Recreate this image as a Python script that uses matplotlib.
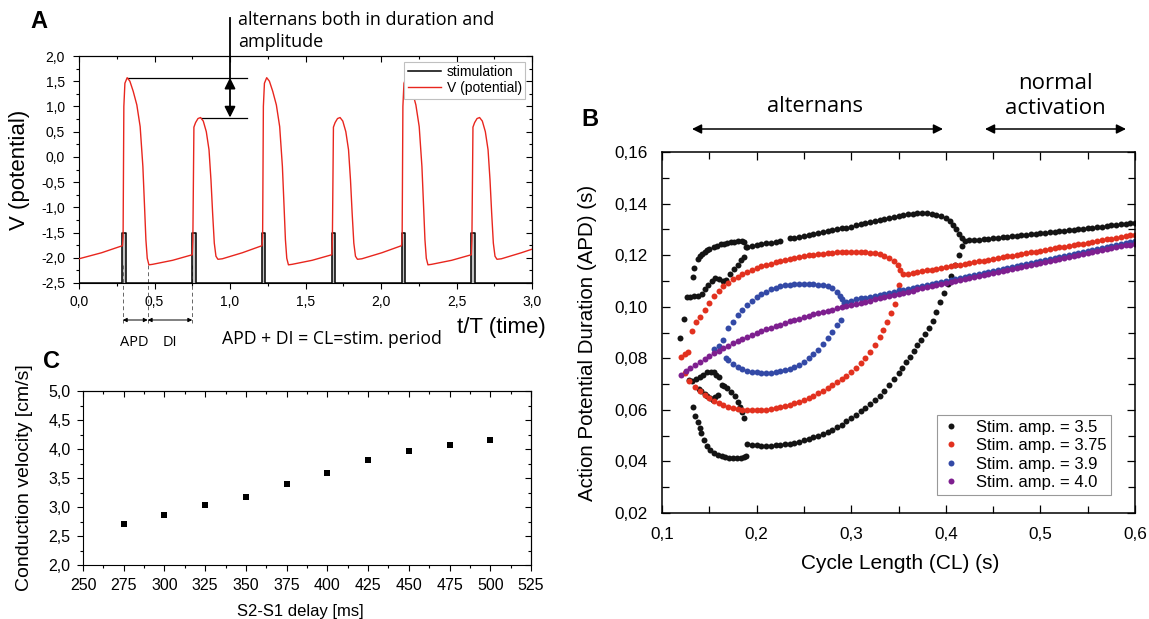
import matplotlib.pyplot as plt
from matplotlib.ticker import MultipleLocator, FuncFormatter

plt.rcParams['font.family'] = ['Liberation Sans', 'DejaVu Sans']
ANNOT_FONT = ['Open Sans', 'DejaVu Sans']

# ---------------- panel A: potential trace and stimulus train ----------------
t_trace = [0.000, 0.150,
           0.288, 0.292, 0.297, 0.304, 0.319, 0.337, 0.359, 0.383, 0.405, 0.423, 0.434, 0.443, 0.452, 0.463, 0.487, 0.620,
           0.750, 0.754, 0.761, 0.772, 0.788, 0.805, 0.823, 0.843, 0.861, 0.874, 0.885, 0.896, 0.907, 0.920, 0.949, 1.082,
           1.212, 1.216, 1.221, 1.228, 1.243, 1.261, 1.283, 1.307, 1.329, 1.347, 1.358, 1.367, 1.376, 1.387, 1.411, 1.544,
           1.674, 1.678, 1.685, 1.696, 1.712, 1.729, 1.747, 1.767, 1.785, 1.798, 1.809, 1.820, 1.831, 1.844, 1.873, 2.006,
           2.136, 2.140, 2.145, 2.152, 2.167, 2.185, 2.207, 2.231, 2.253, 2.271, 2.282, 2.291, 2.300, 2.311, 2.335, 2.468,
           2.598, 2.602, 2.609, 2.620, 2.636, 2.653, 2.671, 2.691, 2.709, 2.722, 2.733, 2.744, 2.755, 2.768, 2.797, 2.930,
           3.000]
v_trace = [-2.02, -1.90,
           -1.76, -1.58, 1.00, 1.46, 1.57, 1.50, 1.30, 1.03, 0.60, -0.19, -0.98, -1.64, -2.01, -2.14, -2.13, -2.05,
           -1.94, -1.64, 0.59, 0.68, 0.76, 0.78, 0.71, 0.50, 0.14, -0.46, -1.12, -1.71, -1.97, -2.03, -2.02, -1.90,
           -1.76, -1.58, 1.00, 1.46, 1.57, 1.50, 1.30, 1.03, 0.60, -0.19, -0.98, -1.64, -2.01, -2.14, -2.13, -2.05,
           -1.94, -1.64, 0.59, 0.68, 0.76, 0.78, 0.71, 0.50, 0.14, -0.46, -1.12, -1.71, -1.97, -2.03, -2.02, -1.90,
           -1.76, -1.58, 1.00, 1.46, 1.57, 1.50, 1.30, 1.03, 0.60, -0.19, -0.98, -1.64, -2.01, -2.14, -2.13, -2.05,
           -1.94, -1.64, 0.59, 0.68, 0.76, 0.78, 0.71, 0.50, 0.14, -0.46, -1.12, -1.71, -1.97, -2.03, -2.02, -1.90,
           -1.83]
stim_start = [0.288, 0.750, 1.212, 1.674, 2.136, 2.598]
stim_width = 0.022
stim_base, stim_top = -2.5, -1.5
apd_marks = [0.29, 0.455, 0.75]          # stim onset, repolarisation, next stim
peak_big, peak_small = 1.57, 0.78

# ---------------- panel B: APD restitution (bifurcation) ----------------
black_left_cl = [0.1190, 0.1236, 0.1324,
                 0.1335, 0.1377, 0.1405, 0.1423, 0.1450, 0.1476, 0.1500, 0.1546, 0.1580, 0.1620, 0.1652, 0.1690,
                 0.1730, 0.1758, 0.1800, 0.1846, 0.1870, 0.1892,
                 0.1264, 0.1300, 0.1340, 0.1380, 0.1420, 0.1455, 0.1490, 0.1530, 0.1565, 0.1600, 0.1640, 0.1680,
                 0.1720, 0.1760, 0.1800, 0.1840, 0.1870,
                 0.1282, 0.1320, 0.1360, 0.1400, 0.1437, 0.1476, 0.1515, 0.1545, 0.1573, 0.1600,
                 0.1390, 0.1417, 0.1450, 0.1476, 0.1505, 0.1534, 0.1560, 0.1590, 0.1632, 0.1660, 0.1690, 0.1730,
                 0.1768, 0.1800, 0.1827, 0.1847, 0.1866,
                 0.1330, 0.1350, 0.1378, 0.1400, 0.1417, 0.1445, 0.1476, 0.1510, 0.1550, 0.1590, 0.1630, 0.1670,
                 0.1710, 0.1750, 0.1790, 0.1830, 0.1866, 0.1890]
black_left_apd = [0.0880, 0.0953, 0.1115,
                  0.1151, 0.1186, 0.1198, 0.1206, 0.1213, 0.1219, 0.1224, 0.1232, 0.1237, 0.1242, 0.1245, 0.1248,
                  0.1250, 0.1251, 0.1253, 0.1255, 0.1250, 0.1230,
                  0.1038, 0.1039, 0.1040, 0.1042, 0.1050, 0.1068, 0.1085, 0.1100, 0.1110, 0.1108, 0.1098, 0.1105,
                  0.1125, 0.1145, 0.1163, 0.1180, 0.1192,
                  0.0714, 0.0712, 0.0718, 0.0728, 0.0737, 0.0745, 0.0748, 0.0745, 0.0737, 0.0728,
                  0.0682, 0.0672, 0.0660, 0.0652, 0.0645, 0.0640, 0.0648, 0.0658, 0.0697, 0.0692, 0.0684, 0.0670,
                  0.0652, 0.0632, 0.0613, 0.0590, 0.0568,
                  0.0611, 0.0575, 0.0551, 0.0530, 0.0510, 0.0485, 0.0460, 0.0445, 0.0432, 0.0426, 0.0421, 0.0417,
                  0.0414, 0.0413, 0.0412, 0.0414, 0.0418, 0.0421]
black_hi_cl = [0.190, 0.195, 0.200, 0.205, 0.210, 0.215, 0.220, 0.225,
               0.235, 0.240, 0.245, 0.250, 0.255, 0.260, 0.265, 0.270, 0.275, 0.280, 0.285, 0.290, 0.295, 0.300,
               0.305, 0.310, 0.315, 0.320, 0.325, 0.330, 0.335, 0.340, 0.345, 0.350, 0.355, 0.360, 0.365, 0.370,
               0.375, 0.380, 0.385, 0.390, 0.395, 0.400, 0.404, 0.408, 0.411, 0.414, 0.417]
black_hi_apd = [0.1232, 0.1237, 0.1240, 0.1243, 0.1246, 0.1249, 0.1252, 0.1255,
                0.1265, 0.1268, 0.1271, 0.1275, 0.1278, 0.1282, 0.1285, 0.1289, 0.1292, 0.1296, 0.1300, 0.1304,
                0.1307, 0.1311, 0.1315, 0.1319, 0.1323, 0.1327, 0.1331, 0.1336, 0.1340, 0.1344, 0.1348, 0.1352,
                0.1355, 0.1358, 0.1360, 0.1362, 0.1363, 0.1362, 0.1360, 0.1357, 0.1352, 0.1344, 0.1333, 0.1318,
                0.1300, 0.1282, 0.1265]
black_lo_cl = [0.190, 0.195, 0.200, 0.205, 0.210, 0.215, 0.220, 0.225, 0.230, 0.235, 0.240, 0.245, 0.250,
               0.255, 0.260, 0.265, 0.270, 0.275, 0.280, 0.285, 0.290, 0.295, 0.300, 0.305, 0.310, 0.315, 0.320,
               0.325, 0.330, 0.335, 0.340, 0.345, 0.350, 0.354, 0.358, 0.362, 0.366, 0.370, 0.374, 0.378, 0.382,
               0.386, 0.390, 0.394, 0.398, 0.402, 0.406, 0.410, 0.414, 0.417]
black_lo_apd = [0.0468, 0.0464, 0.0462, 0.0461, 0.0461, 0.0461, 0.0462, 0.0464, 0.0466, 0.0469, 0.0473,
                0.0477, 0.0482, 0.0488, 0.0494, 0.0500, 0.0507, 0.0515, 0.0523, 0.0533, 0.0543, 0.0555, 0.0567,
                0.0580, 0.0594, 0.0608, 0.0622, 0.0637, 0.0655, 0.0675, 0.0697, 0.0720, 0.0744, 0.0764, 0.0785,
                0.0806, 0.0828, 0.0850, 0.0872, 0.0895, 0.0918, 0.0946, 0.0980, 0.1020, 0.1055, 0.1090, 0.1120,
                0.1160, 0.1200, 0.1235]
black_norm_cl = [0.420, 0.425, 0.430, 0.435, 0.440, 0.445, 0.450, 0.455, 0.460, 0.465, 0.470, 0.475, 0.480,
                 0.485, 0.490, 0.495, 0.500, 0.505, 0.510, 0.515, 0.520, 0.525, 0.530, 0.535, 0.540, 0.545, 0.550,
                 0.555, 0.560, 0.565, 0.570, 0.575, 0.580, 0.585, 0.590, 0.595, 0.600]
black_norm_apd = [0.1256, 0.1257, 0.1258, 0.1260, 0.1262, 0.1263, 0.1265, 0.1267, 0.1269, 0.1271, 0.1273,
                  0.1275, 0.1277, 0.1279, 0.1281, 0.1283, 0.1285, 0.1287, 0.1289, 0.1291, 0.1293, 0.1295, 0.1297,
                  0.1299, 0.1301, 0.1303, 0.1305, 0.1307, 0.1309, 0.1311, 0.1313, 0.1315, 0.1317, 0.1319, 0.1321,
                  0.1323, 0.1325]

red_hi_cl = [0.120, 0.124, 0.128, 0.132, 0.136, 0.140,
             0.145, 0.150, 0.155, 0.160, 0.165, 0.170, 0.175, 0.180, 0.185, 0.190, 0.195, 0.200, 0.205, 0.210,
             0.215, 0.220, 0.225, 0.230, 0.235, 0.240, 0.245, 0.250, 0.255, 0.260, 0.265, 0.270, 0.275, 0.280,
             0.285, 0.290, 0.295, 0.300, 0.305, 0.310, 0.315, 0.320, 0.325, 0.330, 0.335, 0.340, 0.345,
             0.349, 0.352]
red_hi_apd = [0.0805, 0.0818, 0.0826, 0.0905, 0.0940, 0.0962,
              0.0988, 0.1016, 0.1040, 0.1062, 0.1079, 0.1093, 0.1106, 0.1117, 0.1127, 0.1136, 0.1144, 0.1150,
              0.1156, 0.1162, 0.1167, 0.1172, 0.1177, 0.1181, 0.1185, 0.1189, 0.1193, 0.1196, 0.1199, 0.1202,
              0.1204, 0.1206, 0.1208, 0.1210, 0.1211, 0.1212, 0.1213, 0.1213, 0.1213, 0.1213, 0.1212, 0.1210,
              0.1207, 0.1203, 0.1197, 0.1189, 0.1177,
              0.1162, 0.1143]
red_lo_cl = [0.124, 0.129,
             0.135, 0.140, 0.145, 0.150, 0.155, 0.160, 0.165, 0.170, 0.175, 0.180, 0.185, 0.190, 0.195, 0.200,
             0.205, 0.210, 0.215, 0.220, 0.225, 0.230, 0.235, 0.240, 0.245, 0.250, 0.255, 0.260, 0.265, 0.270,
             0.275, 0.280, 0.285, 0.290, 0.295, 0.300, 0.305, 0.310, 0.315, 0.320, 0.325, 0.330,
             0.334, 0.338, 0.342, 0.346, 0.350]
red_lo_apd = [0.0743, 0.0712,
              0.0688, 0.0672, 0.0658, 0.0647, 0.0636, 0.0626, 0.0618, 0.0612, 0.0607, 0.0603, 0.0600, 0.0599,
              0.0598, 0.0598, 0.0599, 0.0601, 0.0603, 0.0606, 0.0610, 0.0615, 0.0620, 0.0626, 0.0632, 0.0639,
              0.0647, 0.0655, 0.0664, 0.0674, 0.0685, 0.0696, 0.0708, 0.0720, 0.0733, 0.0747, 0.0764, 0.0781,
              0.0801, 0.0826, 0.0853, 0.0883,
              0.0910, 0.0940, 0.0975, 0.1010, 0.1085]
red_norm_cl = [0.355, 0.360, 0.365, 0.370, 0.375, 0.380, 0.385, 0.390, 0.395, 0.400, 0.405, 0.410, 0.415,
               0.420, 0.425, 0.430, 0.435, 0.440, 0.445, 0.450, 0.455, 0.460, 0.465, 0.470, 0.475, 0.480, 0.485,
               0.490, 0.495, 0.500, 0.505, 0.510, 0.515, 0.520, 0.525, 0.530, 0.535, 0.540, 0.545, 0.550, 0.555,
               0.560, 0.565, 0.570, 0.575, 0.580, 0.585, 0.590, 0.595, 0.600]
red_norm_apd = [0.1125, 0.1128, 0.1131, 0.1135, 0.1138, 0.1141, 0.1144, 0.1147, 0.1150, 0.1154, 0.1157,
                0.1160, 0.1163, 0.1166, 0.1169, 0.1173, 0.1176, 0.1179, 0.1182, 0.1185, 0.1188, 0.1192, 0.1195,
                0.1198, 0.1201, 0.1204, 0.1207, 0.1211, 0.1214, 0.1217, 0.1220, 0.1223, 0.1226, 0.1230, 0.1233,
                0.1236, 0.1239, 0.1242, 0.1245, 0.1249, 0.1252, 0.1255, 0.1258, 0.1261, 0.1264, 0.1268, 0.1271,
                0.1274, 0.1277, 0.1280]

blue_hi_cl = [0.155, 0.160, 0.165, 0.170, 0.175, 0.180, 0.185, 0.190, 0.195, 0.200, 0.205, 0.210, 0.215,
              0.220, 0.225, 0.230, 0.235, 0.240, 0.245, 0.250, 0.255, 0.260, 0.265, 0.270, 0.275, 0.280, 0.285,
              0.288, 0.290, 0.292]
blue_hi_apd = [0.0835, 0.0846, 0.0870, 0.0916, 0.0940, 0.0968, 0.0988, 0.1005, 0.1021, 0.1037, 0.1048,
               0.1059, 0.1067, 0.1074, 0.1080, 0.1083, 0.1086, 0.1087, 0.1088, 0.1088, 0.1087, 0.1087, 0.1086,
               0.1083, 0.1079, 0.1071, 0.1057, 0.1042, 0.1030, 0.1015]
blue_lo_cl = [0.168, 0.170, 0.175, 0.180, 0.185, 0.190, 0.195, 0.200, 0.205, 0.210, 0.215, 0.220, 0.225,
              0.230, 0.235, 0.240, 0.245, 0.250, 0.255, 0.260, 0.265, 0.270, 0.275, 0.280, 0.285, 0.289]
blue_lo_apd = [0.0800, 0.0793, 0.0779, 0.0767, 0.0758, 0.0751, 0.0747, 0.0745, 0.0743, 0.0743, 0.0744,
               0.0746, 0.0749, 0.0753, 0.0759, 0.0766, 0.0775, 0.0786, 0.0800, 0.0816, 0.0834, 0.0854, 0.0877,
               0.0903, 0.0930, 0.0950]
blue_norm_cl = [0.295, 0.300, 0.305, 0.310, 0.315, 0.320, 0.325, 0.330, 0.335, 0.340, 0.345, 0.350, 0.355,
                0.360, 0.365, 0.370, 0.375, 0.380, 0.385, 0.390, 0.395, 0.400, 0.405, 0.410, 0.415, 0.420, 0.425,
                0.430, 0.435, 0.440, 0.445, 0.450, 0.455, 0.460, 0.465, 0.470, 0.475, 0.480, 0.485, 0.490, 0.495,
                0.500, 0.505, 0.510, 0.515, 0.520, 0.525, 0.530, 0.535, 0.540, 0.545, 0.550, 0.555, 0.560, 0.565,
                0.570, 0.575, 0.580, 0.585, 0.590, 0.595, 0.600]
blue_norm_apd = [0.1020, 0.1024, 0.1028, 0.1032, 0.1035, 0.1039, 0.1043, 0.1047, 0.1051, 0.1055, 0.1059,
                 0.1063, 0.1066, 0.1070, 0.1074, 0.1078, 0.1082, 0.1086, 0.1090, 0.1093, 0.1097, 0.1101, 0.1105,
                 0.1109, 0.1113, 0.1117, 0.1120, 0.1124, 0.1128, 0.1132, 0.1136, 0.1140, 0.1144, 0.1147, 0.1151,
                 0.1155, 0.1159, 0.1163, 0.1167, 0.1170, 0.1174, 0.1178, 0.1182, 0.1186, 0.1190, 0.1194, 0.1197,
                 0.1201, 0.1205, 0.1209, 0.1213, 0.1217, 0.1220, 0.1224, 0.1228, 0.1232, 0.1236, 0.1240, 0.1243,
                 0.1247, 0.1251, 0.1255]

purple_cl = [0.120, 0.125, 0.130, 0.135, 0.140, 0.145, 0.150, 0.155, 0.160, 0.165, 0.170, 0.175, 0.180,
             0.185, 0.190, 0.195, 0.200, 0.205, 0.210, 0.215, 0.220, 0.225, 0.230, 0.235, 0.240, 0.245, 0.250,
             0.255, 0.260, 0.265, 0.270, 0.275, 0.280, 0.285, 0.290, 0.295, 0.300, 0.305, 0.310, 0.315, 0.320,
             0.325, 0.330, 0.335, 0.340, 0.345, 0.350, 0.355, 0.360, 0.365, 0.370, 0.375, 0.380, 0.385, 0.390,
             0.395, 0.400, 0.405, 0.410, 0.415, 0.420, 0.425, 0.430, 0.435, 0.440, 0.445, 0.450, 0.455, 0.460,
             0.465, 0.470, 0.475, 0.480, 0.485, 0.490, 0.495, 0.500, 0.505, 0.510, 0.515, 0.520, 0.525, 0.530,
             0.535, 0.540, 0.545, 0.550, 0.555, 0.560, 0.565, 0.570, 0.575, 0.580, 0.585, 0.590, 0.595, 0.600]
purple_apd = [0.0737, 0.0750, 0.0762, 0.0775, 0.0787, 0.0798, 0.0809, 0.0820, 0.0830, 0.0840, 0.0849,
              0.0858, 0.0867, 0.0875, 0.0883, 0.0891, 0.0898, 0.0905, 0.0912, 0.0919, 0.0925, 0.0931, 0.0937,
              0.0943, 0.0949, 0.0954, 0.0960, 0.0965, 0.0970, 0.0975, 0.0980, 0.0985, 0.0989, 0.0994, 0.0998,
              0.1003, 0.1007, 0.1011, 0.1016, 0.1020, 0.1024, 0.1028, 0.1033, 0.1037, 0.1041, 0.1045, 0.1050,
              0.1054, 0.1058, 0.1062, 0.1067, 0.1071, 0.1075, 0.1079, 0.1084, 0.1088, 0.1092, 0.1096, 0.1101,
              0.1105, 0.1109, 0.1112, 0.1116, 0.1120, 0.1124, 0.1128, 0.1132, 0.1135, 0.1139, 0.1143, 0.1147,
              0.1151, 0.1154, 0.1158, 0.1162, 0.1166, 0.1170, 0.1174, 0.1177, 0.1181, 0.1185, 0.1189, 0.1193,
              0.1196, 0.1200, 0.1204, 0.1208, 0.1211, 0.1215, 0.1219, 0.1223, 0.1226, 0.1230, 0.1234, 0.1238,
              0.1241, 0.1245]

series_labels = ['Stim. amp. = 3.5', 'Stim. amp. = 3.75', 'Stim. amp. = 3.9', 'Stim. amp. = 4.0']
series_colors = ['#141414', '#e2311f', '#3349a6', '#7e1f8f']

# ---------------- panel C: conduction velocity ----------------
s2s1_delay = [275, 300, 325, 350, 375, 400, 425, 450, 475, 500]
cond_velocity = [2.70, 2.86, 3.03, 3.18, 3.39, 3.58, 3.81, 3.96, 4.07, 4.16]

# ---------------------------------------------------------------------------
W, H = 1149, 619


def fx(x):
    return x / W


def fy(y):
    return 1 - y / H


def comma(fmt):
    return FuncFormatter(lambda v, p: format(round(v, 4) + 0.0, fmt).replace('.', ','))


def origin_ticks(ax, xmaj, xmin, ymaj, ymin, size, xpad, ypad):
    # left/bottom ticks point out, top/right mirror ticks point in
    ax.xaxis.set_major_locator(MultipleLocator(xmaj))
    ax.xaxis.set_minor_locator(MultipleLocator(xmin))
    ax.yaxis.set_major_locator(MultipleLocator(ymaj))
    ax.yaxis.set_minor_locator(MultipleLocator(ymin))
    ax.tick_params(which='both', direction='out', width=0.8, labelsize=size)
    ax.tick_params(axis='x', pad=xpad)
    ax.tick_params(axis='y', pad=ypad)
    ax.tick_params(which='major', length=4.5)
    ax.tick_params(which='minor', length=2.5)
    top = ax.secondary_xaxis('top')
    top.xaxis.set_major_locator(MultipleLocator(xmaj))
    top.xaxis.set_minor_locator(MultipleLocator(xmin))
    top.tick_params(which='both', direction='in', width=0.8, labeltop=False)
    top.tick_params(which='major', length=4.5)
    top.tick_params(which='minor', length=2.5)
    right = ax.secondary_yaxis('right')
    right.yaxis.set_major_locator(MultipleLocator(ymaj))
    right.yaxis.set_minor_locator(MultipleLocator(ymin))
    right.tick_params(which='both', direction='in', width=0.8, labelright=False)
    right.tick_params(which='major', length=4.5)
    right.tick_params(which='minor', length=2.5)


fig = plt.figure(figsize=(W / 100, H / 100), dpi=100)

# ---------------- A ----------------
axA = fig.add_axes([fx(79), fy(283), 453 / W, 227 / H])
for s in stim_start:
    axA.fill_between([s, s + stim_width], stim_base, stim_top, color='#c4c4c4', lw=0, zorder=2)
sx, sy = [0.0], [stim_base]
for s in stim_start:
    sx += [s, s, s + stim_width, s + stim_width]
    sy += [stim_base, stim_top, stim_top, stim_base]
sx.append(3.0)
sy.append(stim_base)
axA.plot(sx, sy, color='black', lw=1.1, label='stimulation', zorder=3)
axA.plot(t_trace, v_trace, color='#e8261e', lw=1.0, label='V (potential)', zorder=3)
axA.set_xlim(0, 3)
axA.set_ylim(-2.5, 2.0)
origin_ticks(axA, 0.5, 0.25, 0.5, 0.25, 10, 4, 5.5)
axA.xaxis.set_major_formatter(comma('.1f'))
axA.yaxis.set_major_formatter(comma('.1f'))
axA.set_ylabel('V (potential)', fontsize=16)
axA.yaxis.set_label_coords(-0.108, 0.5)
legA = axA.legend(loc='upper right', bbox_to_anchor=(0.985, 0.975), borderaxespad=0, fontsize=10,
                  handlelength=2.4, handletextpad=0.4, labelspacing=0.15, borderpad=0.25,
                  fancybox=False, framealpha=1, edgecolor='#c0c0c0')
legA.get_frame().set_linewidth(0.8)
legA.set_zorder(5)

# amplitude alternans marker
axA.plot([0.325, 1.113], [peak_big, peak_big], color='black', lw=0.9)
axA.plot([0.805, 1.113], [peak_small, peak_small], color='black', lw=0.9)
axA.annotate('', xy=(1.0, peak_big), xytext=(1.0, peak_small),
             arrowprops=dict(arrowstyle='<|-|>', color='black', lw=1.3, mutation_scale=16,
                             shrinkA=0, shrinkB=0))
axA.plot([1.0, 1.0], [peak_big, 2.75], color='black', lw=1.3, clip_on=False)
fig.text(fx(238), fy(31), 'alternans both in duration and\namplitude', fontsize=13,
         family=ANNOT_FONT, ha='left', va='center', linespacing=1.25)

# APD / DI markers below the axis
xtr = axA.get_xaxis_transform()
for t in apd_marks:
    axA.plot([t, t], [0.08, (283 - 323) / 227], color='#666666', lw=0.7, ls=(0, (4, 3)),
             transform=xtr, clip_on=False)
yar = (283 - 320) / 227
for a, b in [(apd_marks[0], apd_marks[1]), (apd_marks[1], apd_marks[2])]:
    axA.annotate('', xy=(a, yar), xytext=(b, yar), xycoords=xtr, textcoords=xtr,
                 arrowprops=dict(arrowstyle='<|-|>', color='black', lw=0.7, mutation_scale=6,
                                 shrinkA=0, shrinkB=0), annotation_clip=False)
fig.text(fx(134), fy(342), 'APD', fontsize=10.5, family=ANNOT_FONT, ha='center', va='center')
fig.text(fx(170), fy(342), 'DI', fontsize=10.5, family=ANNOT_FONT, ha='center', va='center')
fig.text(fx(222), fy(339), 'APD + DI = CL=stim. period', fontsize=12.7, family=ANNOT_FONT,
         ha='left', va='center')
fig.text(fx(546), fy(327), 't/T (time)', fontsize=16, ha='right', va='center')
fig.text(fx(39), fy(21), 'A', fontsize=17, fontweight='bold', ha='center', va='center')

# ---------------- C ----------------
axC = fig.add_axes([fx(83), fy(565), 448 / W, 174 / H])
axC.plot(s2s1_delay, cond_velocity, 's', color='black', ms=4.3, mew=0)
axC.set_xlim(250, 525)
axC.set_ylim(2.0, 5.0)
origin_ticks(axC, 25, 12.5, 0.5, 0.25, 11.5, 4.5, 4.5)
axC.yaxis.set_major_formatter(comma('.1f'))
axC.set_ylabel('Conduction velocity [cm/s]', fontsize=14)
axC.yaxis.set_label_coords(-0.112, 0.5)
axC.set_xlabel('S2-S1 delay [ms]', fontsize=12)
axC.xaxis.set_label_coords(0.484, -0.225)
fig.text(fx(51), fy(362), 'C', fontsize=17, fontweight='bold', ha='center', va='center')

# ---------------- B ----------------
axB = fig.add_axes([fx(662), fy(513), 473 / W, 361 / H])
groups = [
    (black_left_cl + black_hi_cl + black_lo_cl + black_norm_cl,
     black_left_apd + black_hi_apd + black_lo_apd + black_norm_apd),
    (red_hi_cl + red_lo_cl + red_norm_cl, red_hi_apd + red_lo_apd + red_norm_apd),
    (blue_hi_cl + blue_lo_cl + blue_norm_cl, blue_hi_apd + blue_lo_apd + blue_norm_apd),
    (purple_cl, purple_apd),
]
for (cl, apd), lab, col in zip(groups, series_labels, series_colors):
    axB.plot(cl, apd, 'o', color=col, ms=4.3, mew=0, label=lab)
axB.set_xlim(0.1, 0.6)
axB.set_ylim(0.02, 0.16)
axB.xaxis.set_major_locator(MultipleLocator(0.1))
axB.xaxis.set_minor_locator(MultipleLocator(0.05))
axB.yaxis.set_major_locator(MultipleLocator(0.02))
axB.yaxis.set_minor_locator(MultipleLocator(0.01))
axB.xaxis.set_major_formatter(comma('.1f'))
axB.yaxis.set_major_formatter(comma('.2f'))
axB.tick_params(which='both', direction='in', top=True, right=True, width=0.9, labelsize=12.3)
axB.tick_params(axis='x', pad=10)
axB.tick_params(axis='y', pad=10)
axB.tick_params(which='major', length=6)
axB.tick_params(which='minor', length=5)
for sp in axB.spines.values():
    sp.set_linewidth(1.1)
axB.set_ylabel('Action Potential Duration (APD) (s)', fontsize=14.8)
axB.yaxis.set_label_coords(-0.138, 0.472)
axB.set_xlabel('Cycle Length (CL) (s)', fontsize=15)
axB.xaxis.set_label_coords(0.503, -0.113)
legB = axB.legend(loc='lower right', bbox_to_anchor=(0.95, 0.05), borderaxespad=0, fontsize=12,
                  handlelength=1.0, handletextpad=1.0, labelspacing=0.2, borderpad=0.3,
                  fancybox=False, framealpha=1, edgecolor='#999999')
legB.get_frame().set_linewidth(0.8)

arrow_kw = dict(arrowstyle='<|-|>', color='black', lw=1.1, mutation_scale=14, shrinkA=0, shrinkB=0)
axB.annotate('', xy=(fx(943), fy(129)), xytext=(fx(692), fy(129)), xycoords='figure fraction',
             textcoords='figure fraction', arrowprops=arrow_kw)
axB.annotate('', xy=(fx(1126), fy(129)), xytext=(fx(985), fy(129)), xycoords='figure fraction',
             textcoords='figure fraction', arrowprops=arrow_kw)
fig.text(fx(815), fy(106), 'alternans', fontsize=15.7, family=ANNOT_FONT, ha='center', va='center')
fig.text(fx(1055), fy(96), 'normal\nactivation', fontsize=16, family=ANNOT_FONT, ha='center',
         va='center', linespacing=1.2)
fig.text(fx(590), fy(119), 'B', fontsize=17, fontweight='bold', ha='center', va='center')

fig.savefig('out.png', dpi=100)
